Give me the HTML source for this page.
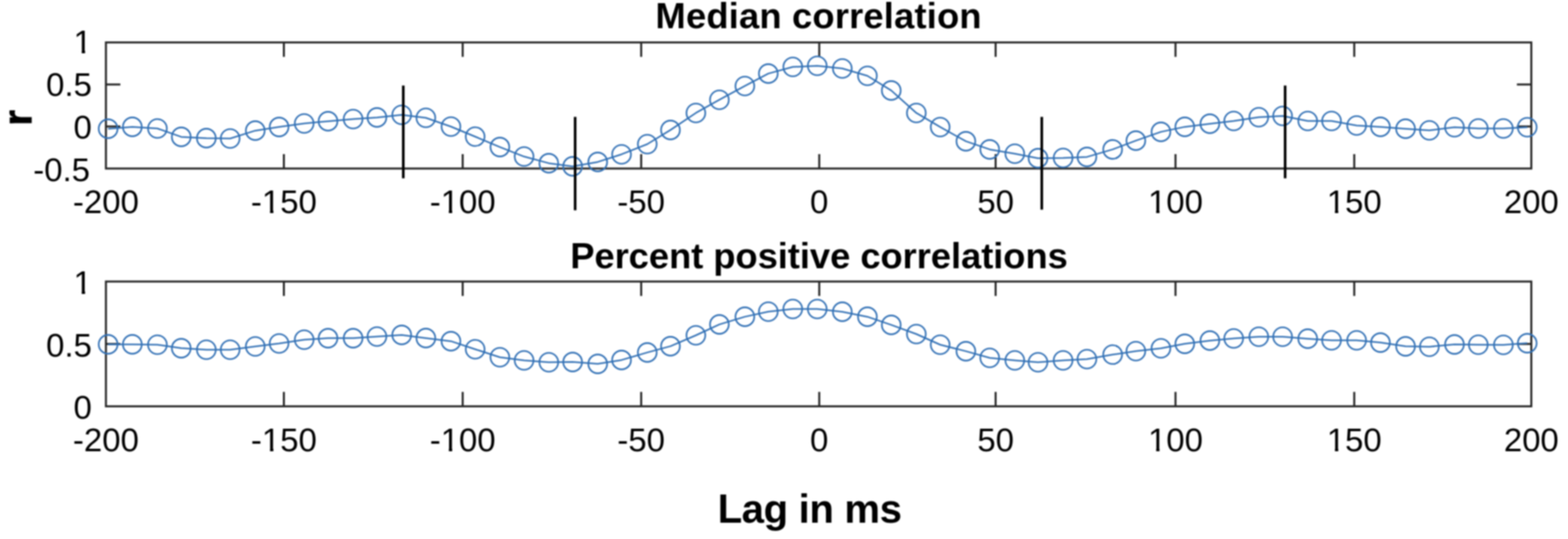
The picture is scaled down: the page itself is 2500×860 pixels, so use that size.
<!DOCTYPE html>
<html><head><meta charset="utf-8"><title>Median correlation</title>
<style>html,body{margin:0;padding:0;background:#fff;width:2500px;height:860px;overflow:hidden}svg{display:block}#fig{filter:blur(1px);width:2500px;height:860px}</style>
</head><body><div id="fig">
<svg width="2500" height="860" viewBox="0 0 2500 860">
<rect width="2500" height="860" fill="#fff"/>
<rect x="168.9" y="67.7" width="2272.6" height="201.2" fill="none" stroke="#262626" stroke-width="3.2"/>
<line x1="452.6" y1="268.9" x2="452.6" y2="245.9" stroke="#262626" stroke-width="3.2"/>
<line x1="452.6" y1="67.7" x2="452.6" y2="90.7" stroke="#262626" stroke-width="3.2"/>
<line x1="737.7" y1="268.9" x2="737.7" y2="245.9" stroke="#262626" stroke-width="3.2"/>
<line x1="737.7" y1="67.7" x2="737.7" y2="90.7" stroke="#262626" stroke-width="3.2"/>
<line x1="1022.3" y1="268.9" x2="1022.3" y2="245.9" stroke="#262626" stroke-width="3.2"/>
<line x1="1022.3" y1="67.7" x2="1022.3" y2="90.7" stroke="#262626" stroke-width="3.2"/>
<line x1="1306.2" y1="268.9" x2="1306.2" y2="245.9" stroke="#262626" stroke-width="3.2"/>
<line x1="1306.2" y1="67.7" x2="1306.2" y2="90.7" stroke="#262626" stroke-width="3.2"/>
<line x1="1587.4" y1="268.9" x2="1587.4" y2="245.9" stroke="#262626" stroke-width="3.2"/>
<line x1="1587.4" y1="67.7" x2="1587.4" y2="90.7" stroke="#262626" stroke-width="3.2"/>
<line x1="1874.2" y1="268.9" x2="1874.2" y2="245.9" stroke="#262626" stroke-width="3.2"/>
<line x1="1874.2" y1="67.7" x2="1874.2" y2="90.7" stroke="#262626" stroke-width="3.2"/>
<line x1="2159.2" y1="268.9" x2="2159.2" y2="245.9" stroke="#262626" stroke-width="3.2"/>
<line x1="2159.2" y1="67.7" x2="2159.2" y2="90.7" stroke="#262626" stroke-width="3.2"/>
<line x1="168.9" y1="201.8" x2="191.9" y2="201.8" stroke="#262626" stroke-width="3.2"/>
<line x1="2441.5" y1="201.8" x2="2418.5" y2="201.8" stroke="#262626" stroke-width="3.2"/>
<line x1="168.9" y1="134.8" x2="191.9" y2="134.8" stroke="#262626" stroke-width="3.2"/>
<line x1="2441.5" y1="134.8" x2="2418.5" y2="134.8" stroke="#262626" stroke-width="3.2"/>
<rect x="168.9" y="449.2" width="2272.6" height="199.1" fill="none" stroke="#262626" stroke-width="3.2"/>
<line x1="452.6" y1="648.3" x2="452.6" y2="625.3" stroke="#262626" stroke-width="3.2"/>
<line x1="452.6" y1="449.2" x2="452.6" y2="472.2" stroke="#262626" stroke-width="3.2"/>
<line x1="737.7" y1="648.3" x2="737.7" y2="625.3" stroke="#262626" stroke-width="3.2"/>
<line x1="737.7" y1="449.2" x2="737.7" y2="472.2" stroke="#262626" stroke-width="3.2"/>
<line x1="1022.3" y1="648.3" x2="1022.3" y2="625.3" stroke="#262626" stroke-width="3.2"/>
<line x1="1022.3" y1="449.2" x2="1022.3" y2="472.2" stroke="#262626" stroke-width="3.2"/>
<line x1="1306.2" y1="648.3" x2="1306.2" y2="625.3" stroke="#262626" stroke-width="3.2"/>
<line x1="1306.2" y1="449.2" x2="1306.2" y2="472.2" stroke="#262626" stroke-width="3.2"/>
<line x1="1587.4" y1="648.3" x2="1587.4" y2="625.3" stroke="#262626" stroke-width="3.2"/>
<line x1="1587.4" y1="449.2" x2="1587.4" y2="472.2" stroke="#262626" stroke-width="3.2"/>
<line x1="1874.2" y1="648.3" x2="1874.2" y2="625.3" stroke="#262626" stroke-width="3.2"/>
<line x1="1874.2" y1="449.2" x2="1874.2" y2="472.2" stroke="#262626" stroke-width="3.2"/>
<line x1="2159.2" y1="648.3" x2="2159.2" y2="625.3" stroke="#262626" stroke-width="3.2"/>
<line x1="2159.2" y1="449.2" x2="2159.2" y2="472.2" stroke="#262626" stroke-width="3.2"/>
<line x1="168.9" y1="548.8" x2="191.9" y2="548.8" stroke="#262626" stroke-width="3.2"/>
<line x1="2441.5" y1="548.8" x2="2418.5" y2="548.8" stroke="#262626" stroke-width="3.2"/>
<polyline points="172.4,205.4 211.0,202.4 251.0,205.0 289.0,218.4 329.0,220.4 367.0,221.0 407.0,208.4 445.0,202.6 485.0,197.0 523.0,193.4 563.0,190.0 601.0,187.4 640.5,183.2 679.0,188.0 719.0,202.0 757.6,218.0 797.0,234.6 835.6,249.8 875.0,260.4 913.0,265.4 953.0,258.4 991.0,246.2 1032.0,230.0 1069.0,207.4 1109.5,180.2 1147.0,159.2 1187.6,137.2 1225.0,117.4 1264.0,106.8 1303.0,105.0 1343.0,109.2 1383.0,121.0 1421.0,144.4 1461.0,180.2 1499.0,202.7 1540.0,225.4 1578.0,238.4 1618.0,245.2 1655.0,252.4 1695.0,252.0 1733.0,250.4 1774.0,238.4 1811.0,224.4 1851.0,210.4 1889.0,202.4 1929.0,197.4 1967.0,193.0 2007.0,187.0 2045.0,185.0 2085.0,193.0 2123.0,193.0 2163.0,200.2 2201.0,202.4 2241.0,205.4 2279.0,208.0 2319.0,203.0 2357.0,205.0 2397.0,205.0 2435.0,203.0" fill="none" stroke="#3170b5" stroke-width="2.5" stroke-linejoin="round"/>
<g fill="none" stroke="#3170b5" stroke-width="2.6">
<circle cx="172.4" cy="205.4" r="15.0"/>
<circle cx="211.0" cy="202.4" r="15.0"/>
<circle cx="251.0" cy="205.0" r="15.0"/>
<circle cx="289.0" cy="218.4" r="15.0"/>
<circle cx="329.0" cy="220.4" r="15.0"/>
<circle cx="367.0" cy="221.0" r="15.0"/>
<circle cx="407.0" cy="208.4" r="15.0"/>
<circle cx="445.0" cy="202.6" r="15.0"/>
<circle cx="485.0" cy="197.0" r="15.0"/>
<circle cx="523.0" cy="193.4" r="15.0"/>
<circle cx="563.0" cy="190.0" r="15.0"/>
<circle cx="601.0" cy="187.4" r="15.0"/>
<circle cx="640.5" cy="183.2" r="15.0"/>
<circle cx="679.0" cy="188.0" r="15.0"/>
<circle cx="719.0" cy="202.0" r="15.0"/>
<circle cx="757.6" cy="218.0" r="15.0"/>
<circle cx="797.0" cy="234.6" r="15.0"/>
<circle cx="835.6" cy="249.8" r="15.0"/>
<circle cx="875.0" cy="260.4" r="15.0"/>
<circle cx="913.0" cy="265.4" r="15.0"/>
<circle cx="953.0" cy="258.4" r="15.0"/>
<circle cx="991.0" cy="246.2" r="15.0"/>
<circle cx="1032.0" cy="230.0" r="15.0"/>
<circle cx="1069.0" cy="207.4" r="15.0"/>
<circle cx="1109.5" cy="180.2" r="15.0"/>
<circle cx="1147.0" cy="159.2" r="15.0"/>
<circle cx="1187.6" cy="137.2" r="15.0"/>
<circle cx="1225.0" cy="117.4" r="15.0"/>
<circle cx="1264.0" cy="106.8" r="15.0"/>
<circle cx="1303.0" cy="105.0" r="15.0"/>
<circle cx="1343.0" cy="109.2" r="15.0"/>
<circle cx="1383.0" cy="121.0" r="15.0"/>
<circle cx="1421.0" cy="144.4" r="15.0"/>
<circle cx="1461.0" cy="180.2" r="15.0"/>
<circle cx="1499.0" cy="202.7" r="15.0"/>
<circle cx="1540.0" cy="225.4" r="15.0"/>
<circle cx="1578.0" cy="238.4" r="15.0"/>
<circle cx="1618.0" cy="245.2" r="15.0"/>
<circle cx="1655.0" cy="252.4" r="15.0"/>
<circle cx="1695.0" cy="252.0" r="15.0"/>
<circle cx="1733.0" cy="250.4" r="15.0"/>
<circle cx="1774.0" cy="238.4" r="15.0"/>
<circle cx="1811.0" cy="224.4" r="15.0"/>
<circle cx="1851.0" cy="210.4" r="15.0"/>
<circle cx="1889.0" cy="202.4" r="15.0"/>
<circle cx="1929.0" cy="197.4" r="15.0"/>
<circle cx="1967.0" cy="193.0" r="15.0"/>
<circle cx="2007.0" cy="187.0" r="15.0"/>
<circle cx="2045.0" cy="185.0" r="15.0"/>
<circle cx="2085.0" cy="193.0" r="15.0"/>
<circle cx="2123.0" cy="193.0" r="15.0"/>
<circle cx="2163.0" cy="200.2" r="15.0"/>
<circle cx="2201.0" cy="202.4" r="15.0"/>
<circle cx="2241.0" cy="205.4" r="15.0"/>
<circle cx="2279.0" cy="208.0" r="15.0"/>
<circle cx="2319.0" cy="203.0" r="15.0"/>
<circle cx="2357.0" cy="205.0" r="15.0"/>
<circle cx="2397.0" cy="205.0" r="15.0"/>
<circle cx="2435.0" cy="203.0" r="15.0"/>
</g>
<polyline points="172.4,549.4 211.0,549.4 251.0,550.0 289.0,555.6 329.0,558.0 367.0,558.0 407.0,552.8 445.0,548.0 485.0,542.0 523.0,539.6 563.0,539.6 601.0,537.0 640.5,534.4 679.0,539.4 719.0,544.4 757.6,557.2 797.0,570.0 835.6,575.0 875.0,578.0 913.0,577.6 953.0,580.6 991.0,574.4 1032.0,562.4 1069.0,552.4 1109.5,535.0 1147.0,517.6 1187.6,505.4 1225.0,497.2 1264.0,493.0 1303.0,493.0 1343.0,497.4 1383.0,505.4 1421.0,518.4 1461.0,533.0 1499.0,550.0 1540.0,560.4 1578.0,571.0 1618.0,575.0 1655.0,578.0 1695.0,575.0 1733.0,573.0 1774.0,565.8 1811.0,560.2 1851.0,555.8 1889.0,548.6 1929.0,543.4 1967.0,540.0 2007.0,537.2 2045.0,537.2 2085.0,540.4 2123.0,543.0 2163.0,543.0 2201.0,546.6 2241.0,552.6 2279.0,553.2 2319.0,549.6 2357.0,550.0 2397.0,550.2 2435.0,547.6" fill="none" stroke="#3170b5" stroke-width="2.5" stroke-linejoin="round"/>
<g fill="none" stroke="#3170b5" stroke-width="2.6">
<circle cx="172.4" cy="549.4" r="15.0"/>
<circle cx="211.0" cy="549.4" r="15.0"/>
<circle cx="251.0" cy="550.0" r="15.0"/>
<circle cx="289.0" cy="555.6" r="15.0"/>
<circle cx="329.0" cy="558.0" r="15.0"/>
<circle cx="367.0" cy="558.0" r="15.0"/>
<circle cx="407.0" cy="552.8" r="15.0"/>
<circle cx="445.0" cy="548.0" r="15.0"/>
<circle cx="485.0" cy="542.0" r="15.0"/>
<circle cx="523.0" cy="539.6" r="15.0"/>
<circle cx="563.0" cy="539.6" r="15.0"/>
<circle cx="601.0" cy="537.0" r="15.0"/>
<circle cx="640.5" cy="534.4" r="15.0"/>
<circle cx="679.0" cy="539.4" r="15.0"/>
<circle cx="719.0" cy="544.4" r="15.0"/>
<circle cx="757.6" cy="557.2" r="15.0"/>
<circle cx="797.0" cy="570.0" r="15.0"/>
<circle cx="835.6" cy="575.0" r="15.0"/>
<circle cx="875.0" cy="578.0" r="15.0"/>
<circle cx="913.0" cy="577.6" r="15.0"/>
<circle cx="953.0" cy="580.6" r="15.0"/>
<circle cx="991.0" cy="574.4" r="15.0"/>
<circle cx="1032.0" cy="562.4" r="15.0"/>
<circle cx="1069.0" cy="552.4" r="15.0"/>
<circle cx="1109.5" cy="535.0" r="15.0"/>
<circle cx="1147.0" cy="517.6" r="15.0"/>
<circle cx="1187.6" cy="505.4" r="15.0"/>
<circle cx="1225.0" cy="497.2" r="15.0"/>
<circle cx="1264.0" cy="493.0" r="15.0"/>
<circle cx="1303.0" cy="493.0" r="15.0"/>
<circle cx="1343.0" cy="497.4" r="15.0"/>
<circle cx="1383.0" cy="505.4" r="15.0"/>
<circle cx="1421.0" cy="518.4" r="15.0"/>
<circle cx="1461.0" cy="533.0" r="15.0"/>
<circle cx="1499.0" cy="550.0" r="15.0"/>
<circle cx="1540.0" cy="560.4" r="15.0"/>
<circle cx="1578.0" cy="571.0" r="15.0"/>
<circle cx="1618.0" cy="575.0" r="15.0"/>
<circle cx="1655.0" cy="578.0" r="15.0"/>
<circle cx="1695.0" cy="575.0" r="15.0"/>
<circle cx="1733.0" cy="573.0" r="15.0"/>
<circle cx="1774.0" cy="565.8" r="15.0"/>
<circle cx="1811.0" cy="560.2" r="15.0"/>
<circle cx="1851.0" cy="555.8" r="15.0"/>
<circle cx="1889.0" cy="548.6" r="15.0"/>
<circle cx="1929.0" cy="543.4" r="15.0"/>
<circle cx="1967.0" cy="540.0" r="15.0"/>
<circle cx="2007.0" cy="537.2" r="15.0"/>
<circle cx="2045.0" cy="537.2" r="15.0"/>
<circle cx="2085.0" cy="540.4" r="15.0"/>
<circle cx="2123.0" cy="543.0" r="15.0"/>
<circle cx="2163.0" cy="543.0" r="15.0"/>
<circle cx="2201.0" cy="546.6" r="15.0"/>
<circle cx="2241.0" cy="552.6" r="15.0"/>
<circle cx="2279.0" cy="553.2" r="15.0"/>
<circle cx="2319.0" cy="549.6" r="15.0"/>
<circle cx="2357.0" cy="550.0" r="15.0"/>
<circle cx="2397.0" cy="550.2" r="15.0"/>
<circle cx="2435.0" cy="547.6" r="15.0"/>
</g>
<line x1="643" y1="136.5" x2="643" y2="284.5" stroke="#000" stroke-width="4.2"/>
<line x1="917" y1="186.5" x2="917" y2="335.5" stroke="#000" stroke-width="4.2"/>
<line x1="1661" y1="186.5" x2="1661" y2="334.5" stroke="#000" stroke-width="4.2"/>
<line x1="2049" y1="136.5" x2="2049" y2="284.5" stroke="#000" stroke-width="4.2"/>
<text x="168.9" y="339.5" font-size="52.5" text-anchor="middle" font-weight="normal" font-family="'Liberation Sans', Arial, sans-serif" fill="#000" >-200</text>
<text x="452.6" y="339.5" font-size="52.5" text-anchor="middle" font-weight="normal" font-family="'Liberation Sans', Arial, sans-serif" fill="#000" >-150</text>
<text x="737.7" y="339.5" font-size="52.5" text-anchor="middle" font-weight="normal" font-family="'Liberation Sans', Arial, sans-serif" fill="#000" >-100</text>
<text x="1022.3" y="339.5" font-size="52.5" text-anchor="middle" font-weight="normal" font-family="'Liberation Sans', Arial, sans-serif" fill="#000" >-50</text>
<text x="1306.2" y="339.5" font-size="52.5" text-anchor="middle" font-weight="normal" font-family="'Liberation Sans', Arial, sans-serif" fill="#000" >0</text>
<text x="1587.4" y="339.5" font-size="52.5" text-anchor="middle" font-weight="normal" font-family="'Liberation Sans', Arial, sans-serif" fill="#000" >50</text>
<text x="1874.2" y="339.5" font-size="52.5" text-anchor="middle" font-weight="normal" font-family="'Liberation Sans', Arial, sans-serif" fill="#000" >100</text>
<text x="2159.2" y="339.5" font-size="52.5" text-anchor="middle" font-weight="normal" font-family="'Liberation Sans', Arial, sans-serif" fill="#000" >150</text>
<text x="2441.5" y="339.5" font-size="52.5" text-anchor="middle" font-weight="normal" font-family="'Liberation Sans', Arial, sans-serif" fill="#000" >200</text>
<text x="168.9" y="720" font-size="52.5" text-anchor="middle" font-weight="normal" font-family="'Liberation Sans', Arial, sans-serif" fill="#000" >-200</text>
<text x="452.6" y="720" font-size="52.5" text-anchor="middle" font-weight="normal" font-family="'Liberation Sans', Arial, sans-serif" fill="#000" >-150</text>
<text x="737.7" y="720" font-size="52.5" text-anchor="middle" font-weight="normal" font-family="'Liberation Sans', Arial, sans-serif" fill="#000" >-100</text>
<text x="1022.3" y="720" font-size="52.5" text-anchor="middle" font-weight="normal" font-family="'Liberation Sans', Arial, sans-serif" fill="#000" >-50</text>
<text x="1306.2" y="720" font-size="52.5" text-anchor="middle" font-weight="normal" font-family="'Liberation Sans', Arial, sans-serif" fill="#000" >0</text>
<text x="1587.4" y="720" font-size="52.5" text-anchor="middle" font-weight="normal" font-family="'Liberation Sans', Arial, sans-serif" fill="#000" >50</text>
<text x="1874.2" y="720" font-size="52.5" text-anchor="middle" font-weight="normal" font-family="'Liberation Sans', Arial, sans-serif" fill="#000" >100</text>
<text x="2159.2" y="720" font-size="52.5" text-anchor="middle" font-weight="normal" font-family="'Liberation Sans', Arial, sans-serif" fill="#000" >150</text>
<text x="2441.5" y="720" font-size="52.5" text-anchor="middle" font-weight="normal" font-family="'Liberation Sans', Arial, sans-serif" fill="#000" >200</text>
<text x="146.5" y="84.7" font-size="52.5" text-anchor="end" font-weight="normal" font-family="'Liberation Sans', Arial, sans-serif" fill="#000" >1</text>
<text x="146.5" y="152.8" font-size="52.5" text-anchor="end" font-weight="normal" font-family="'Liberation Sans', Arial, sans-serif" fill="#000" >0.5</text>
<text x="146.5" y="220.8" font-size="52.5" text-anchor="end" font-weight="normal" font-family="'Liberation Sans', Arial, sans-serif" fill="#000" >0</text>
<text x="143.5" y="289.0" font-size="52.5" text-anchor="end" font-weight="normal" font-family="'Liberation Sans', Arial, sans-serif" fill="#000" >-0.5</text>
<text x="146.5" y="468.8" font-size="52.5" text-anchor="end" font-weight="normal" font-family="'Liberation Sans', Arial, sans-serif" fill="#000" >1</text>
<text x="146.5" y="569.3" font-size="52.5" text-anchor="end" font-weight="normal" font-family="'Liberation Sans', Arial, sans-serif" fill="#000" >0.5</text>
<text x="146.5" y="667.5" font-size="52.5" text-anchor="end" font-weight="normal" font-family="'Liberation Sans', Arial, sans-serif" fill="#000" >0</text>
<rect x="420.86" y="334.90" width="9.70" height="5.4" fill="#fff"/>
<rect x="435.86" y="334.90" width="9.60" height="5.4" fill="#fff"/>
<rect x="705.96" y="334.90" width="9.70" height="5.4" fill="#fff"/>
<rect x="720.96" y="334.90" width="9.60" height="5.4" fill="#fff"/>
<rect x="1833.71" y="334.90" width="9.70" height="5.4" fill="#fff"/>
<rect x="1848.71" y="334.90" width="9.60" height="5.4" fill="#fff"/>
<rect x="2118.72" y="334.90" width="9.70" height="5.4" fill="#fff"/>
<rect x="2133.72" y="334.90" width="9.60" height="5.4" fill="#fff"/>
<rect x="420.86" y="715.40" width="9.70" height="5.4" fill="#fff"/>
<rect x="435.86" y="715.40" width="9.60" height="5.4" fill="#fff"/>
<rect x="705.96" y="715.40" width="9.70" height="5.4" fill="#fff"/>
<rect x="720.96" y="715.40" width="9.60" height="5.4" fill="#fff"/>
<rect x="1833.71" y="715.40" width="9.70" height="5.4" fill="#fff"/>
<rect x="1848.71" y="715.40" width="9.60" height="5.4" fill="#fff"/>
<rect x="2118.72" y="715.40" width="9.70" height="5.4" fill="#fff"/>
<rect x="2133.72" y="715.40" width="9.60" height="5.4" fill="#fff"/>
<rect x="120.61" y="80.10" width="9.70" height="5.4" fill="#fff"/>
<rect x="135.61" y="80.10" width="9.60" height="5.4" fill="#fff"/>
<rect x="120.61" y="464.20" width="9.70" height="5.4" fill="#fff"/>
<rect x="135.61" y="464.20" width="9.60" height="5.4" fill="#fff"/>
<text x="1305.2" y="44.6" font-size="58" text-anchor="middle" font-weight="bold" font-family="'Liberation Sans', Arial, sans-serif" fill="#000" letter-spacing="0.25">Median correlation</text>
<text x="1305.8" y="427.6" font-size="58" text-anchor="middle" font-weight="bold" font-family="'Liberation Sans', Arial, sans-serif" fill="#000" letter-spacing="-0.1">Percent positive correlations</text>
<text x="1290.8" y="833.6" font-size="64" text-anchor="middle" font-weight="bold" font-family="'Liberation Sans', Arial, sans-serif" fill="#000" letter-spacing="-0.6">Lag in ms</text>
<text x="50.4" y="188.1" font-size="64" text-anchor="middle" font-weight="bold" font-family="'Liberation Sans', Arial, sans-serif" fill="#000" stroke="#000" stroke-width="1.1" transform="rotate(-90 50.4 188.1)">r</text>
</svg>
</div></body></html>
